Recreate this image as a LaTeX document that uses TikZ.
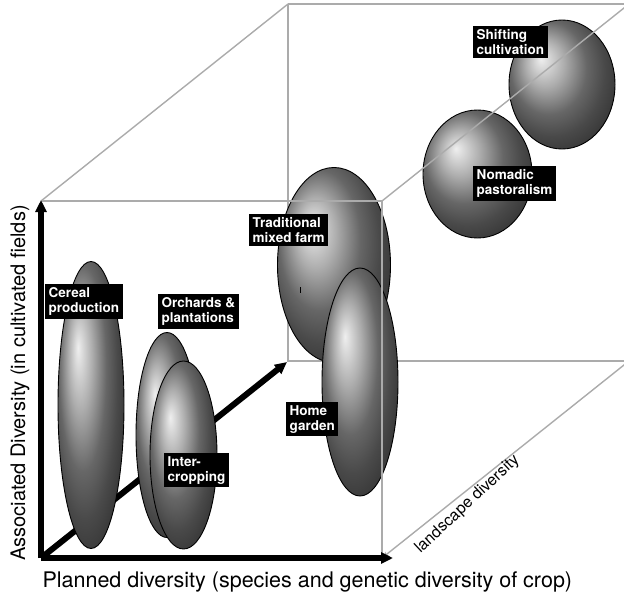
\documentclass[tikz,border=0pt]{standalone}
\usepackage{fontspec}
\setmainfont{TeX Gyre Heros}
\usetikzlibrary{shapes.geometric,arrows.meta}
\begin{document}
\begin{tikzpicture}[x=1pt,y=-1pt,
  ballnode/.style={ellipse, draw=black, line width=0.9pt, ball color=gray!85, inner sep=0pt},
  tag/.style={fill=black, text=white, font=\fontsize{13.5}{15.5}\selectfont\bfseries, align=left, inner xsep=3.5pt, inner ysep=3pt, anchor=north west},
  cubeline/.style={draw=black!33, line width=1.4pt},
  axisline/.style={line width=6pt, -{Triangle[length=12pt,width=11pt]}},
  axistext/.style={font=\fontsize{20}{24}\selectfont},
]
\useasboundingbox (0,0) rectangle (624,594);
% cube corners
\coordinate (O) at (41,558);
\coordinate (Vtip) at (41,200);
\coordinate (Htip) at (393,558);
\coordinate (FTL) at (41,201);
\coordinate (FTR) at (382,201);
\coordinate (FBR) at (382,558);
\coordinate (BTL) at (288,4);
\coordinate (BTR) at (629,4);
\coordinate (BBL) at (288,361);
\coordinate (BBR) at (629,361);
\coordinate (Dtip) at (287,362);
% back cube lines
\draw[cubeline] (BTL) -- (BBL) -- (BBR);
\draw[cubeline] (BTL) -- (BTR);
\draw[cubeline] (FTL) -- (BTL);
\draw[cubeline, -{Stealth[length=7pt,width=5pt]}] (BBR) -- (FBR);
% depth arrow
\draw[axisline] (O) -- (Dtip);
% balls
\node[ballnode, minimum width=66pt, minimum height=287pt] (cereal) at (91,405) {};
\node[ballnode, minimum width=62pt, minimum height=205pt] (orchards) at (167,435) {};
\node[ballnode, minimum width=67pt, minimum height=188pt] (inter) at (183.5,455) {};
\node[ballnode, minimum width=113pt, minimum height=195pt] (trad) at (334,265) {};
\node[ballnode, minimum width=76pt, minimum height=228pt] (home) at (360,382) {};
\node[ballnode, minimum width=106pt, minimum height=129pt] (shift) at (562,84.5) {};
\node[ballnode, minimum width=109pt, minimum height=128pt] (nomad) at (477.5,174) {};
\draw[line width=1pt] (300,287) -- (300,293);
% front cube lines
\draw[cubeline] (FTL) -- (FTR) -- (FBR);
\draw[cubeline] (FTR) -- (BTR);
% axes
\draw[axisline] (O) -- (Vtip);
\draw[axisline] (O) -- (Htip);
% labels
\node[tag] (tshift) at (473,26) {Shifting\\cultivation};
\node[tag] (tnomad) at (473,166) {Nomadic\\pastoralism};
\node[tag] (ttrad) at (249,214) {Traditional\\mixed farm};
\node[tag] (tcereal) at (45,284) {Cereal\\production};
\node[tag] (torch) at (158,294) {Orchards \&\\plantations};
\node[tag] (thome) at (286,402) {Home\\garden};
\node[tag] (tinter) at (164,453) {Inter-\\cropping};
% axis texts
\node[font=\fontsize{21.5}{25}\selectfont, anchor=base west] (xlab) at (39,587) {Planned diversity (species and genetic diversity of crop)};
\node[axistext, anchor=base, rotate=90] (ylab) at (25,383) {Associated Diversity (in cultivated fields)};
\node[font=\fontsize{16}{19}\selectfont, anchor=base west, rotate=43] (zlab) at (418,556) {landscape diversity};
\end{tikzpicture}
\end{document}
